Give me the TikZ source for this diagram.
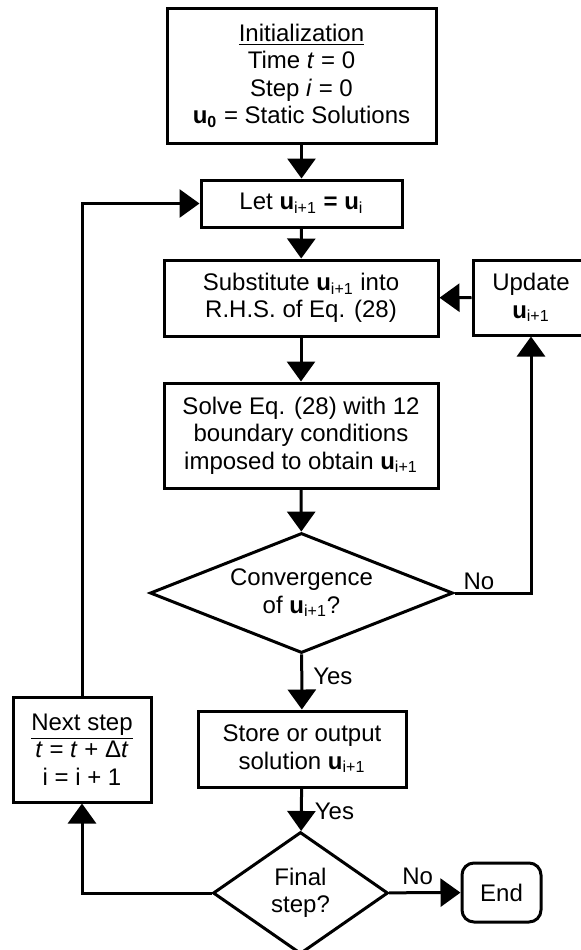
\documentclass[tikz,border=0pt]{standalone}
\usepackage{fontspec}
\setmainfont{Liberation Sans}
\usetikzlibrary{arrows.meta,shapes.geometric}

\newcommand{\uvar}[1]{\textbf{u}\textsubscript{#1}}

\tikzset{
	txt/.style={font=\fontsize{12}{13.75}\selectfont},
	block/.style={txt, draw, line width=1.5pt, rectangle, align=center, inner sep=0pt},
	decision/.style={txt, draw, line width=1.5pt, diamond, align=center, inner sep=0pt},
	flow/.style={line width=1.5pt, -{Triangle[length=10pt,width=14pt]}},
	lab/.style={txt, inner sep=1pt}
}

\begin{document}
\begin{tikzpicture}[x=0.5pt, y=-0.5pt]
	\useasboundingbox (0,0) rectangle (580,950);
	\node[block, minimum width=134.5pt, minimum height=67.5pt] (init) at (301.5,75.5)
  {\underline{Initialization}\\Time \textit{t} = 0\\Step \textit{i} = 0\\\textbf{u}\textsubscript{\textbf{0}} = Static Solutions};
	\node[block, minimum width=100.5pt, minimum height=23.5pt] (let) at (301.5,203.5)
  {Let \uvar{i+1} \textbf{=} \uvar{i}};
	\node[block, minimum width=137pt, minimum height=38pt] (subst) at (301,298)
  {Substitute \uvar{i+1} into\\R.H.S. of Eq. (28)};
	\node[block, minimum width=58pt, minimum height=37.5pt] (update) at (531,297.5)
  {Update\\\uvar{i+1}};
	\node[block, minimum width=137pt, minimum height=52.5pt] (solve) at (301,435.5)
  {Solve Eq. (28) with 12\\boundary conditions\\imposed to obtain \uvar{i+1}};
	\node[decision, aspect=2.5, minimum width=151.5pt, minimum height=60pt] (conv) at (301.5,593)
  {Convergence\\of \uvar{i+1}?};
	\node[block, minimum width=104pt, minimum height=38pt] (store) at (302,749)
  {Store or output\\solution \uvar{i+1}};
	\node[block, minimum width=69pt, minimum height=52.5pt] (next) at (82,749.5)
  {\underline{Next step}\\\textit{t} = \textit{t} + Δ\textit{t}\\i = i + 1};
	\node[decision, aspect=1.43, minimum width=87.5pt, minimum height=61pt] (final) at (300.5,893)
  {Final\\step?};
	\node[block, rounded corners=6pt, minimum width=39.5pt, minimum height=29.5pt] (end) at (501.5,892.5)
  {End};

	\draw[flow] (init) -- (let);
	\draw[flow] (let) -- (subst);
	\draw[flow] (subst) -- (solve);
	\draw[flow] (solve) -- (conv);
	\draw[flow] (conv) -- node[lab, pos=0.4, anchor=west, xshift=4pt] {Yes} (store);
	\draw[flow] (store) -- node[lab, pos=0.55, anchor=west, xshift=5pt] {Yes} (final);
	\draw[flow] (conv.east) -| node[lab, pos=0.16, above] {No} (update.south);
	\draw[flow] (update) -- (subst);
	\draw[flow] (final) -- node[lab, pos=0.4, above, yshift=2pt] {No} (end);
	\draw[flow] (final.west) -| (next.south);
	\draw[flow] (next.north) |- (let.west);
\end{tikzpicture}
\end{document}
